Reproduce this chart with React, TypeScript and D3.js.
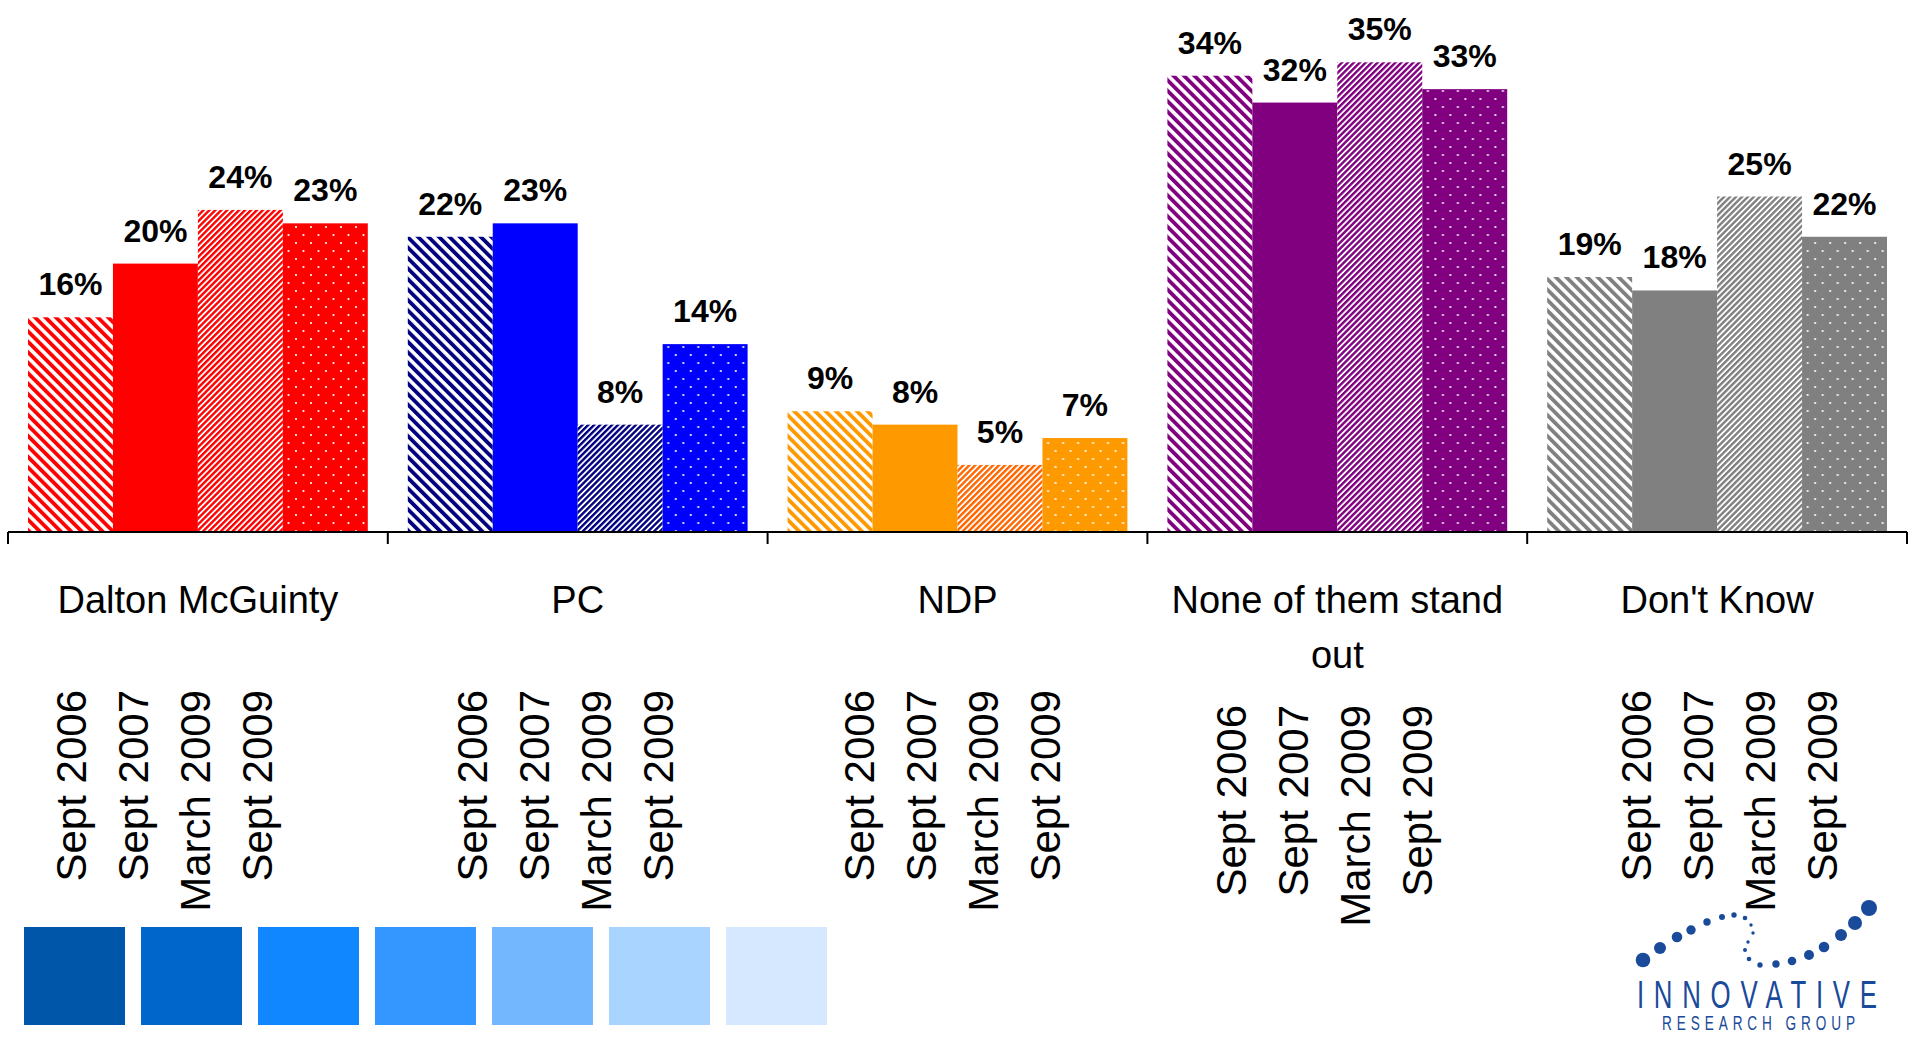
import React from 'react';
import * as d3 from 'd3';

// ---------- data ----------
const categories = ['Dalton McGuinty', 'PC', 'NDP', 'None of them stand out', "Don't Know"];
const seriesNames = ['Sept 2006', 'Sept 2007', 'March 2009', 'Sept 2009'];
const sept2006 = [16, 22, 9, 34, 19];
const sept2007 = [20, 23, 8, 32, 18];
const march2009 = [24, 8, 5, 35, 25];
const sept2009 = [23, 14, 7, 33, 22];
const seriesValues = [sept2006, sept2007, march2009, sept2009];

const baseColors = ['#FF0000', '#0000FF', '#FF9900', '#800080', '#808080'];
const wideStripeColors = ['#FF0000', '#000080', '#FF9900', '#800080', '#808080'];
const fineStripeColors = ['#FF0000', '#000080', '#FF6600', '#800080', '#808080'];
const swatchColors = ['#0056A8', '#0066CC', '#1087FF', '#3397FF', '#73B8FF', '#A9D4FF', '#D5E8FF'];

// ---------- layout (not data) ----------
const W = 1917;
const H = 1037;
const FONT = "'Liberation Sans', Arial, Helvetica, sans-serif";
// horizontal nudge of each block of rotated date labels, as placed in the original slide
const dateBlockNudge = [-21, 0, 7, 0, 25];

// decorative logo dots [x, y, r]
const logoDots: [number, number, number][] = [
  [1643, 960, 7.3], [1660, 948, 6], [1677, 937, 5.3], [1691, 930, 4.7], [1707, 922, 3.7],
  [1722, 917, 3], [1734, 915, 2.7], [1745, 918, 2.3], [1751, 925, 1.7], [1753, 933, 1.7],
  [1748, 942, 1.7], [1745, 950, 2], [1749, 959, 2.3], [1760, 965, 2.7], [1776, 964, 3.7],
  [1792, 961, 4.3], [1809, 955, 5], [1824, 947, 5.3], [1841, 935, 6], [1855, 923, 7], [1869, 908, 8],
];

function wrapText(text: string, font: string, maxW: number): string[] {
  const ctx = document.createElement('canvas').getContext('2d');
  if (!ctx) return [text];
  ctx.font = font;
  const words = text.split(' ');
  const lines: string[] = [];
  let cur = '';
  for (const w of words) {
    const t = cur ? cur + ' ' + w : w;
    if (ctx.measureText(t).width > maxW && cur) {
      lines.push(cur);
      cur = w;
    } else cur = t;
  }
  if (cur) lines.push(cur);
  return lines;
}

export default function App() {
  const axisY = 532;
  const x0 = d3.scaleBand<string>().domain(categories).range([8, 1907]).paddingInner(0).paddingOuter(0);
  const x1 = d3.scaleBand<string>().domain(seriesNames).range([20, x0.bandwidth() - 20]);
  const y = d3.scaleLinear().domain([0, 40]).range([axisY, axisY - 40 * 13.42]);
  const dateCol = d3.scalePoint<string>().domain(seriesNames).range([-93, 93]);

  const catFontSize = 38;
  const catLines = categories.map((c) => wrapText(c, `${catFontSize}px ${FONT}`, 360));

  const fillFor = (ci: number, si: number) => {
    if (si === 0) return `url(#wide-${ci})`;
    if (si === 1) return baseColors[ci];
    if (si === 2) return `url(#fine-${ci})`;
    return `url(#dots-${ci})`;
  };

  const boundaries = [...categories.map((c) => x0(c) as number), 1907];
  const sx = 0.68;

  return (
    <svg
      width={W}
      height={H}
      style={{ position: 'absolute', left: 0, top: 0, display: 'block', background: '#fff' }}
      fontFamily={FONT}
    >
      <defs>
        {categories.map((c, ci) => (
          <React.Fragment key={c}>
            <pattern id={`wide-${ci}`} patternUnits="userSpaceOnUse" width={7.4} height={7.4} patternTransform="rotate(-45)">
              <rect width={7.4} height={7.4} fill="#fff" />
              <rect width={3.8} height={7.4} fill={wideStripeColors[ci]} />
            </pattern>
            <pattern id={`fine-${ci}`} patternUnits="userSpaceOnUse" width={4.2} height={4.2} patternTransform="rotate(45)">
              <rect width={4.2} height={4.2} fill="#fff" />
              <rect width={2.4} height={4.2} fill={fineStripeColors[ci]} />
            </pattern>
            <pattern id={`dots-${ci}`} patternUnits="userSpaceOnUse" width={15} height={16}>
              <rect width={15} height={16} fill={baseColors[ci]} />
              <circle cx={3} cy={3} r={1.1} fill="#fff" />
              <circle cx={10.5} cy={11} r={1.1} fill="#fff" />
            </pattern>
          </React.Fragment>
        ))}
      </defs>

      {/* bars */}
      {categories.map((c, ci) => (
        <g key={c} transform={`translate(${x0(c)},0)`}>
          {seriesNames.map((s, si) => {
            const v = seriesValues[si][ci];
            return (
              <rect
                key={s}
                x={x1(s)}
                y={y(v)}
                width={x1.bandwidth()}
                height={axisY - y(v)}
                fill={fillFor(ci, si)}
              />
            );
          })}
          {seriesNames.map((s, si) => {
            const v = seriesValues[si][ci];
            return (
              <text
                key={'l' + s}
                x={(x1(s) as number) + x1.bandwidth() / 2}
                y={y(v) - 22}
                textAnchor="middle"
                fontSize={32}
                fontWeight="bold"
                fill="#000"
              >
                {`${v}%`}
              </text>
            );
          })}
        </g>
      ))}

      {/* axis */}
      <line x1={8} x2={1907} y1={axisY} y2={axisY} stroke="#000" strokeWidth={2} />
      {boundaries.map((b, i) => (
        <line key={i} x1={b} x2={b} y1={axisY} y2={axisY + 12} stroke="#000" strokeWidth={2} />
      ))}

      {/* category labels */}
      {categories.map((c, ci) => {
        const cx = (x0(c) as number) + x0.bandwidth() / 2;
        const lines = catLines[ci];
        const topY = 690 + (lines.length - 1) * 15;
        return (
          <g key={'cat' + c}>
            <text x={cx} y={613} textAnchor="middle" fontSize={catFontSize} fill="#000">
              {lines.map((ln, li) => (
                <tspan key={li} x={cx} dy={li === 0 ? 0 : 55}>
                  {ln}
                </tspan>
              ))}
            </text>
            {seriesNames.map((s) => {
              const bx = cx + 2 + dateBlockNudge[ci] + (dateCol(s) as number);
              return (
                <text
                  key={s}
                  transform={`translate(${bx},${topY}) rotate(-90)`}
                  textAnchor="end"
                  fontSize={42}
                  fill="#000"
                >
                  {s}
                </text>
              );
            })}
          </g>
        );
      })}

      {/* colour swatches */}
      {swatchColors.map((col, i) => (
        <rect key={col} x={24 + i * 117} y={927} width={101} height={98} fill={col} />
      ))}

      {/* logo */}
      <g fill="#1A4A9A">
        {logoDots.map(([cx, cy, r], i) => (
          <circle key={i} cx={cx} cy={cy} r={r} />
        ))}
        <g transform={`translate(1637,1008) scale(${sx},1)`}>
          <text x={0} y={0} fontSize={38} textLength={240 / sx} lengthAdjust="spacing">
            INNOVATIVE
          </text>
        </g>
        <g transform={`translate(1662,1030) scale(${sx},1)`}>
          <text x={0} y={0} fontSize={20} textLength={193 / sx} lengthAdjust="spacing">
            RESEARCH GROUP
          </text>
        </g>
      </g>
    </svg>
  );
}
